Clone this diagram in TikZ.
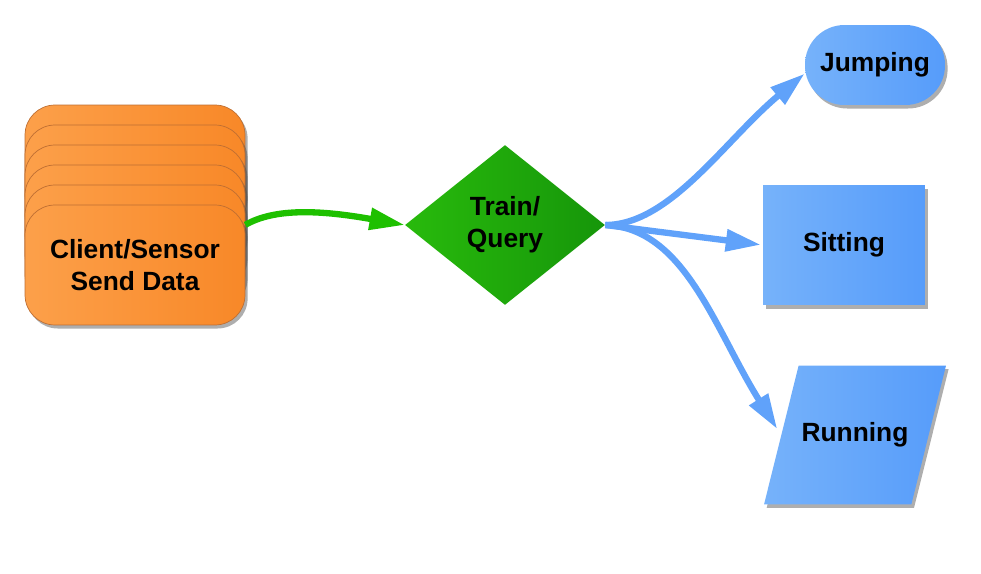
\documentclass[tikz,border=0pt]{standalone}
\usepackage{fontspec}
\setmainfont{Liberation Sans}
\usetikzlibrary{shapes.geometric,shadows,arrows.meta}
\definecolor{orangeA}{RGB}{252,160,74}
\definecolor{orangeB}{RGB}{248,136,40}
\definecolor{orangeC}{RGB}{190,110,50}
\definecolor{greenA}{RGB}{40,186,12}
\definecolor{greenB}{RGB}{22,150,10}
\definecolor{greenL}{RGB}{30,192,0}
\definecolor{blueA}{RGB}{118,178,250}
\definecolor{blueB}{RGB}{86,156,250}
\definecolor{blueL}{RGB}{96,162,250}
\begin{document}
\begin{tikzpicture}[x=0.02cm,y=-0.02cm,
	lbl/.style={font=\fontsize{15}{18}\selectfont\bfseries, align=center, inner sep=0pt},
	shade/.style={drop shadow={shadow xshift=1.5pt, shadow yshift=-2pt, fill=black!70, opacity=.45}},
	card/.style={lbl, shade, rectangle, rounded corners=0.6cm, minimum width=4.4cm, minimum height=2.4cm,
		left color=orangeA, right color=orangeB, draw=orangeC, line width=0.4pt},
	boxes/.style={lbl, shade, left color=blueA, right color=blueB},
	flow/.style={line width=3.6pt, -{Triangle[length=20pt, width=12pt]}}]
	\useasboundingbox (0,0) rectangle (981,574);
	% stacked client cards
	\foreach \i in {5,...,1}
		\node[card] at (135, 265-20*\i) {};
	\node[card] (S) at (135,265) {Client/Sensor\\Send Data};
	\node[lbl, diamond, minimum width=4cm, minimum height=3.2cm, aspect=1.25,
		left color=greenA, right color=greenB] (D) at (505,225) {Train/\\Query};
	\node[boxes, rectangle, rounded corners=0.79cm, minimum width=2.8cm, minimum height=1.6cm] (J) at (875,65) {Jumping};
	\node[boxes, rectangle, minimum width=3.24cm, minimum height=2.4cm] (T) at (844,245) {Sitting};
	\node[boxes, trapezium, trapezium left angle=76, trapezium right angle=104, trapezium stretches body,
		inner ysep=32.5pt, minimum width=3.64cm] (R) at (855,435) {Running};
	% arrows
	\draw[flow, greenL] (S.20) .. controls (275,208) and (320,210) .. (D.west);
	\draw[flow, blueL] (D.east) .. controls (670,225) and (725,140) .. (J.187);
	\draw[flow, blueL, shorten >=1pt] (D.east) -- (T.west);
	\draw[flow, blueL, shorten >=4pt] (D.east) .. controls (685,228) and (715,330) .. (R.west);
\end{tikzpicture}
\end{document}
